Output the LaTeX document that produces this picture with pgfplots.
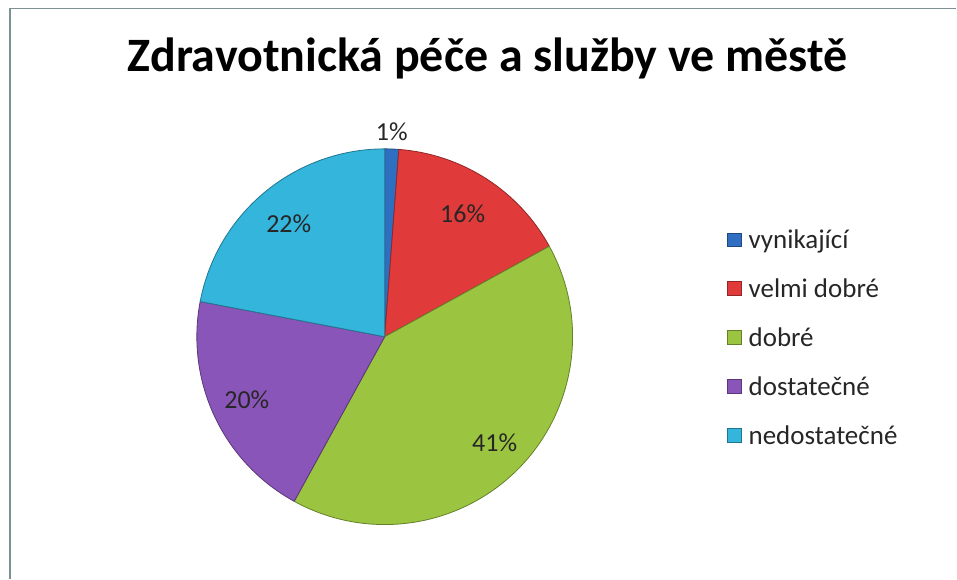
\documentclass[border=0pt]{standalone}
\usepackage{pgfplots}
\pgfplotsset{compat=1.18}
\usepackage{fontspec}
\setmainfont{Carlito}
\definecolor{cblue}{HTML}{2E6FC2}
\definecolor{cred}{HTML}{E03A3A}
\definecolor{cgreen}{HTML}{9BC540}
\definecolor{cpurple}{HTML}{8A55B8}
\definecolor{ccyan}{HTML}{33B5DC}
\definecolor{frame}{HTML}{7D9096}
\begin{document}
\begin{tikzpicture}
\begin{axis}[
  xmin=0, xmax=957, ymin=0, ymax=579,
  width=957pt, height=579pt, scale only axis,
  hide axis, clip=false]
\path (axis cs:0,0) rectangle (axis cs:957,579);
% frame
\draw[frame, line width=1.5pt] (axis cs:10,0) -- (axis cs:10,570.5) -- (axis cs:957,570.5);
% title
\node[font=\bfseries\fontsize{48}{52}\selectfont, anchor=base, inner sep=0pt] at (axis cs:488,579-72) {Zdravotnická péče a služby ve městě};
% pie slices: value / colour
\def\angA{90}
\foreach \v/\c in {1.2/cblue,15.8/cred,41/cgreen,20/cpurple,22/ccyan} {
  \pgfmathsetmacro\angB{\angA-3.6*\v}
  \edef\temp{\noexpand\filldraw[fill=\c, draw=\c!65!black, line width=0.8pt, line join=round]
    (axis cs:385,242) -- ++(\angA:188pt) arc[start angle=\angA, end angle=\angB, radius=188pt] -- cycle;}
  \temp
  \global\let\angA\angB
}
% percentage labels
\node[font=\fontsize{26}{28}\selectfont, anchor=base, text=black!85] at (axis cs:392,579-141) {1\%};
\node[font=\fontsize{26}{28}\selectfont, anchor=base, text=black!85] at (axis cs:463,579-223) {16\%};
\node[font=\fontsize{26}{28}\selectfont, anchor=base, text=black!85] at (axis cs:495,579-452) {41\%};
\node[font=\fontsize{26}{28}\selectfont, anchor=base, text=black!85] at (axis cs:247,579-409) {20\%};
\node[font=\fontsize{26}{28}\selectfont, anchor=base, text=black!85] at (axis cs:289,579-233) {22\%};
% legend
\foreach \y/\c/\t in {249/cblue/vynikající,298/cred/velmi dobré,347/cgreen/dobré,396/cpurple/dostatečné,445/ccyan/nedostatečné} {
  \edef\temp{\noexpand\filldraw[fill=\c, draw=\c!65!black, line width=0.6pt]
     (axis cs:728,579-\y+2) rectangle (axis cs:742,579-\y+16);
   \noexpand\node[font=\noexpand\fontsize{27}{29}\noexpand\selectfont, anchor=base west, inner sep=0pt, text=black!85] at (axis cs:749,579-\y) {\t};}
  \temp
}
\end{axis}
\end{tikzpicture}
\end{document}
